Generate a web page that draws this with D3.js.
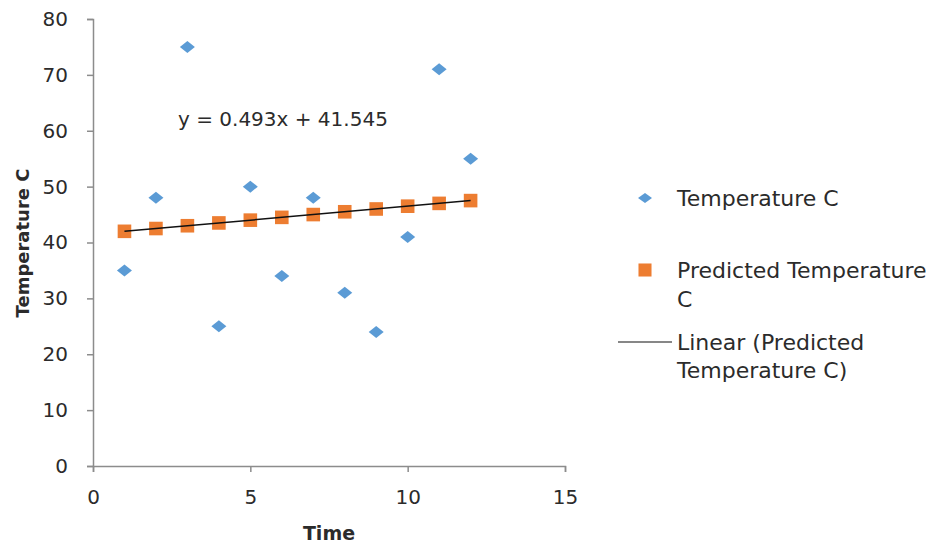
<!DOCTYPE html>
<html>
<head>
<meta charset="utf-8">
<script src="https://cdn.jsdelivr.net/npm/d3@7"></script>
<style>
  body { margin: 0; background: #fff; }
  svg text { font-family: "DejaVu Sans", sans-serif; fill: #2b2b2b; }
</style>
</head>
<body>
<div id="chart"></div>
<script>
// data
var times = [1, 2, 3, 4, 5, 6, 7, 8, 9, 10, 11, 12];
var temperature = [35, 48, 75, 25, 50, 34, 48, 31, 24, 41, 71, 55];
var predicted = [42.0, 42.5, 43.0, 43.5, 44.0, 44.5, 45.0, 45.5, 46.0, 46.5, 47.0, 47.5];
var xTicks = [0, 5, 10, 15];
var yTicks = [0, 10, 20, 30, 40, 50, 60, 70, 80];
var equation = "y = 0.493x + 41.545";

var width = 931, height = 543;
var axisColor = "#8c8c8c";
var blue = "#5b9bd5", orange = "#ed7d31";

var svg = d3.select("#chart").append("svg")
    .attr("width", width)
    .attr("height", height);

var x = d3.scaleLinear().domain([0, 15]).range([93, 565]);
var y = d3.scaleLinear().domain([0, 80]).range([466, 19]);

// axes
var xAxis = svg.append("g")
    .attr("transform", "translate(0," + y(0) + ")")
    .call(d3.axisBottom(x).tickValues(xTicks).tickSize(6).tickPadding(18));
var yAxis = svg.append("g")
    .attr("transform", "translate(" + x(0) + ",0)")
    .call(d3.axisLeft(y).tickValues(yTicks).tickSize(6).tickPadding(19));

[xAxis, yAxis].forEach(function(a) {
  a.select(".domain").attr("stroke", axisColor).attr("stroke-width", 1.5);
  a.selectAll(".tick line").attr("stroke", axisColor).attr("stroke-width", 1.5);
  a.selectAll(".tick text")
    .style("font-size", "20px")
    .style("font-family", "'DejaVu Sans', sans-serif")
    .attr("fill", "#2b2b2b");
});

// axis titles
svg.append("text")
    .attr("x", 329)
    .attr("y", 540)
    .attr("text-anchor", "middle")
    .style("font-size", "19px")
    .style("font-weight", "bold")
    .text("Time");

svg.append("text")
    .attr("transform", "translate(29,243) rotate(-90)")
    .attr("text-anchor", "middle")
    .style("font-size", "18px")
    .style("font-weight", "bold")
    .text("Temperature C");

var pts = times.map(function(t, i) {
  return { t: t, temp: temperature[i], pred: predicted[i] };
});

// wide diamond marker like the original
function diamondPath(w, h) {
  return "M0," + (-h / 2) + "L" + (w / 2) + ",0L0," + (h / 2) + "L" + (-w / 2) + ",0Z";
}
var square = d3.symbol().type(d3.symbolSquare).size(185);

// temperature points
svg.append("g").selectAll("path")
    .data(pts)
    .enter().append("path")
    .attr("d", diamondPath(15, 12))
    .attr("transform", function(d) { return "translate(" + x(d.t) + "," + y(d.temp) + ")"; })
    .attr("fill", blue);

// predicted points
svg.append("g").selectAll("path")
    .data(pts)
    .enter().append("path")
    .attr("d", square)
    .attr("transform", function(d) { return "translate(" + x(d.t) + "," + y(d.pred) + ")"; })
    .attr("fill", orange);

// linear trendline through predicted points (least squares)
var mx = d3.mean(times), my = d3.mean(predicted);
var slope = d3.sum(pts, function(d) { return (d.t - mx) * (d.pred - my); }) /
            d3.sum(pts, function(d) { return (d.t - mx) * (d.t - mx); });
var icpt = my - slope * mx;
var t0 = d3.min(times), t1 = d3.max(times);
svg.append("line")
    .attr("x1", x(t0)).attr("y1", y(icpt + slope * t0))
    .attr("x2", x(t1)).attr("y2", y(icpt + slope * t1))
    .attr("stroke", "#111")
    .attr("stroke-width", 1.5);

svg.append("text")
    .attr("x", 178)
    .attr("y", 126)
    .style("font-size", "20px")
    .text(equation);

// legend
var legend = svg.append("g").style("font-size", "22px");
legend.append("path")
    .attr("d", diamondPath(14, 10))
    .attr("transform", "translate(645,198)")
    .attr("fill", blue);
legend.append("text").attr("x", 677).attr("y", 206).text("Temperature C");

legend.append("path")
    .attr("d", d3.symbol().type(d3.symbolSquare).size(170))
    .attr("transform", "translate(645,270)")
    .attr("fill", orange);
legend.append("text").attr("x", 677).attr("y", 278).text("Predicted Temperature");
legend.append("text").attr("x", 677).attr("y", 307).text("C");

legend.append("line")
    .attr("x1", 618).attr("x2", 672)
    .attr("y1", 342).attr("y2", 342)
    .attr("stroke", "#111").attr("stroke-width", 1.2);
legend.append("text").attr("x", 677).attr("y", 350).text("Linear (Predicted");
legend.append("text").attr("x", 677).attr("y", 378).text("Temperature C)");
</script>
</body>
</html>
